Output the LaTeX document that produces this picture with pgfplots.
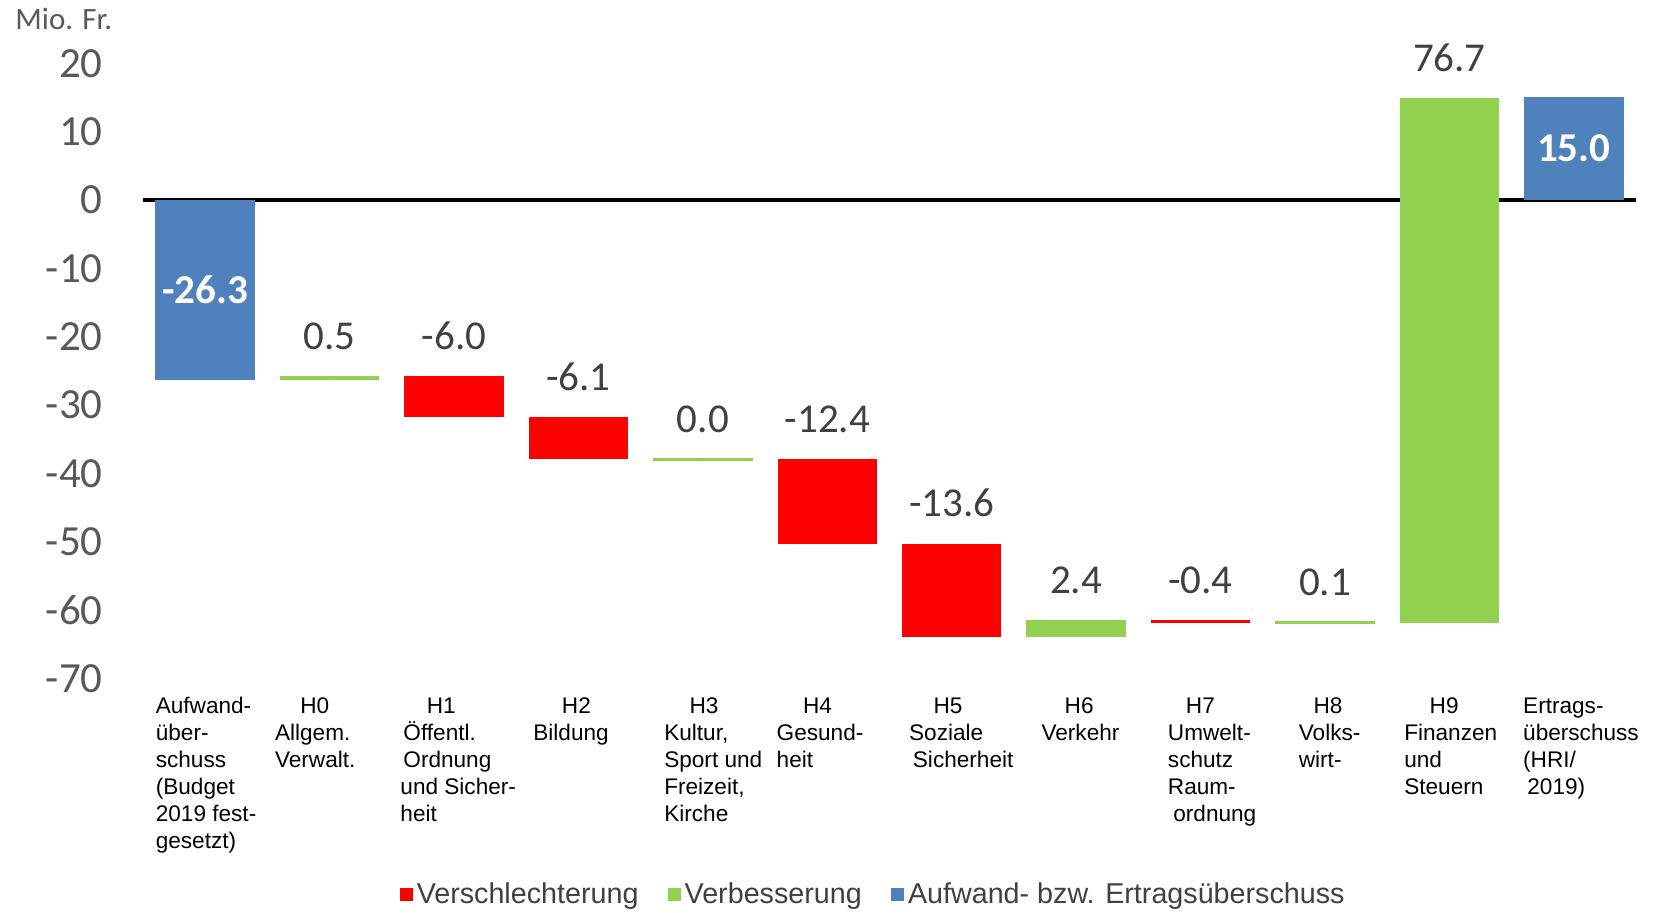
\documentclass[border=0pt]{standalone}
\usepackage{pgfplots}
\pgfplotsset{compat=1.18}
\usepackage{pgfplotstable}
\usepackage{fontspec}
\setmainfont{Liberation Sans}
\newfontfamily\calibri{Carlito}
\definecolor{barred}{HTML}{FF0000}
\definecolor{bargreen}{HTML}{92D050}
\definecolor{barblue}{HTML}{4F81BD}
\definecolor{tickgray}{HTML}{595959}
\definecolor{labgray}{HTML}{404040}
\definecolor{leggray}{HTML}{404040}

\pgfplotsset{
  wf/.style={
    scale only axis, width=746.5pt, height=307.7pt,
    xmin=-0.5, xmax=11.5, ymin=-70, ymax=20,
    enlargelimits=false,
    clip=false, at={(0,0)}, anchor=south west,
  },
  % a floating bar from start to start+change, drawn as a wide butt-capped error bar
  wfbar/.style={draw=none, mark=none, forget plot,
    error bars/.cd, y dir=both, y explicit, error mark=none,
    error bar style={draw=#1, line width=49.77pt, line cap=butt}},
}
\newcommand{\catl}[2]{\hspace*{#1}\begin{tabular}[t]{@{}l@{}}#2\end{tabular}}

% categories: 0 Aufwandueberschuss, 1 H0, 2 H1, ..., 10 H9, 11 Ertragsueberschuss
% start = running total before each step; the colour columns hold the changes
\pgfplotstableread{
x  start  red    green  blue
0   0.0    0.0    0.0  -26.3
1  -26.3   0.0    0.5    0.0
2  -25.8  -6.0    0.0    0.0
3  -31.8  -6.1    0.0    0.0
4  -37.9   0.0    0.0    0.0
5  -37.9 -12.4    0.0    0.0
6  -50.3 -13.6    0.0    0.0
7  -63.9   0.0    2.4    0.0
8  -61.5  -0.4    0.0    0.0
9  -61.9   0.0    0.1    0.0
10 -61.8   0.0   76.7    0.0
11   0.0   0.0    0.0   15.0
}\wfdata

\begin{document}
\begin{tikzpicture}
\path[use as bounding box] (-71.5pt,-116.7pt) rectangle (758.5pt,339.3pt);
\node[anchor=west, inner sep=0pt, font=\calibri\fontsize{15.5}{18}\selectfont, text=tickgray] at (-64pt,329.8pt) {Mio. Fr.};
\begin{axis}[wf,
  axis line style={draw=none}, major tick length=0pt, tick style={draw=none},
  ytick={-70,-60,...,20},
  yticklabels={-70,-60,-50,-40,-30,-20,-10,0,10,20},
  yticklabel style={anchor=east, inner sep=0pt, xshift=-20pt, font=\calibri\fontsize{21.5}{24}\selectfont, text=tickgray},
  extra y ticks={0}, extra y tick labels={},
  extra y tick style={grid=major, major grid style={black, line width=2pt}},
  xtick={0,1,2,3,4,5,6,7,8,9,10,11},
  xticklabels={
    {\catl{2.6pt}{Aufwand-\\über-\\schuss\\(Budget\\2019 fest-\\gesetzt)}},
    {\catl{0pt}{\hspace*{12.7pt}H0\\Allgem.\\Verwalt.}},
    {\catl{0.5pt}{\hspace*{13.2pt}H1\\\hspace*{1.5pt}Öffentl.\\\hspace*{1.5pt}Ordnung\\und Sicher-\\heit}},
    {\catl{4.75pt}{\hspace*{14.3pt}H2\\Bildung}},
    {\catl{8pt}{\hspace*{12.7pt}H3\\Kultur,\\Sport und\\Freizeit,\\Kirche}},
    {\catl{2pt}{\hspace*{13.2pt}H4\\Gesund-\\heit}},
    {\catl{6pt}{\hspace*{12.2pt}H5\\Soziale\\\hspace*{1.9pt}Sicherheit}},
    {\catl{10pt}{\hspace*{11.6pt}H6\\Verkehr}},
    {\catl{11pt}{\hspace*{9pt}H7\\Umwelt-\\schutz\\Raum-\\\hspace*{2.7pt}ordnung}},
    {\catl{14.25pt}{\hspace*{7.4pt}H8\\Volks-\\wirt-}},
    {\catl{4.75pt}{\hspace*{12.7pt}H9\\Finanzen\\und\\Steuern}},
    {\catl{2pt}{Ertrags-\\überschuss\\(HRI/\\\hspace*{2.1pt}2019)}}
  },
  xticklabel style={anchor=north west, inner sep=0pt, xshift=-27.5pt, yshift=-7.65pt, font=\fontsize{11.3}{13.5}\selectfont, text=black},
  legend columns=3,
  legend image code/.code={\fill[#1] (0pt,-3.25pt) rectangle (6.5pt,3.25pt);},
  legend style={at={(0.1717,-0.3516)}, anchor=west, draw=none, fill=none, inner sep=0pt,
    nodes={inner sep=2pt, font=\fontsize{14.35}{16}\selectfont, text=leggray},
    /tikz/every even column/.append style={column sep=12.6pt}},
]
\addlegendimage{fill=barred, draw=none}
\addlegendentry{Verschlechterung}
\addlegendimage{fill=bargreen, draw=none}
\addlegendentry{Verbesserung}
\addlegendimage{fill=barblue, draw=none}
\addlegendentry{Aufwand- bzw. Ertragsüberschuss}
% floating bars
\addplot[wfbar=barred] table[x=x, y expr=\thisrow{start}+0.5*\thisrow{red}, y error expr=0.5*abs(\thisrow{red})] {\wfdata};
\addplot[wfbar=bargreen] table[x=x, y expr=\thisrow{start}+0.5*\thisrow{green}, y error expr=0.5*abs(\thisrow{green})] {\wfdata};
\addplot[wfbar=barblue] table[x=x, y expr=\thisrow{start}+0.5*\thisrow{blue}, y error expr=0.5*abs(\thisrow{blue})] {\wfdata};
% hairlines of the (near) zero steps
\addplot[only marks, mark=-, mark size=24.9pt, mark options={bargreen, line width=1.4pt}, forget plot]
  coordinates {(4,-37.9) (9,-61.85)};
% value labels
\addplot[only marks, mark=*, mark size=0pt, mark options={draw=none, fill=none}, forget plot,
  nodes near coords, point meta=explicit symbolic,
  nodes near coords style={anchor=base, yshift=13.5pt, inner sep=0pt, font=\calibri\fontsize{20.5}{24}\selectfont, text=labgray}]
  coordinates {(1,-25.8)[0.5] (2,-25.8)[-6.0] (3,-31.8)[-6.1] (4,-37.9)[0.0] (5,-37.9)[-12.4] (6,-50.3)[-13.6] (7,-61.5)[2.4] (8,-61.5)[-0.4] (9,-61.8)[0.1] (10,14.9)[76.7]};
\addplot[only marks, mark=*, mark size=0pt, mark options={draw=none, fill=none}, forget plot,
  nodes near coords, point meta=explicit symbolic,
  nodes near coords style={anchor=center, inner sep=0pt, font=\calibri\bfseries\fontsize{20.5}{24}\selectfont, text=white}]
  coordinates {(0,-13.15)[-26.3] (11,7.5)[15.0]};
\end{axis}
\end{tikzpicture}
\end{document}
